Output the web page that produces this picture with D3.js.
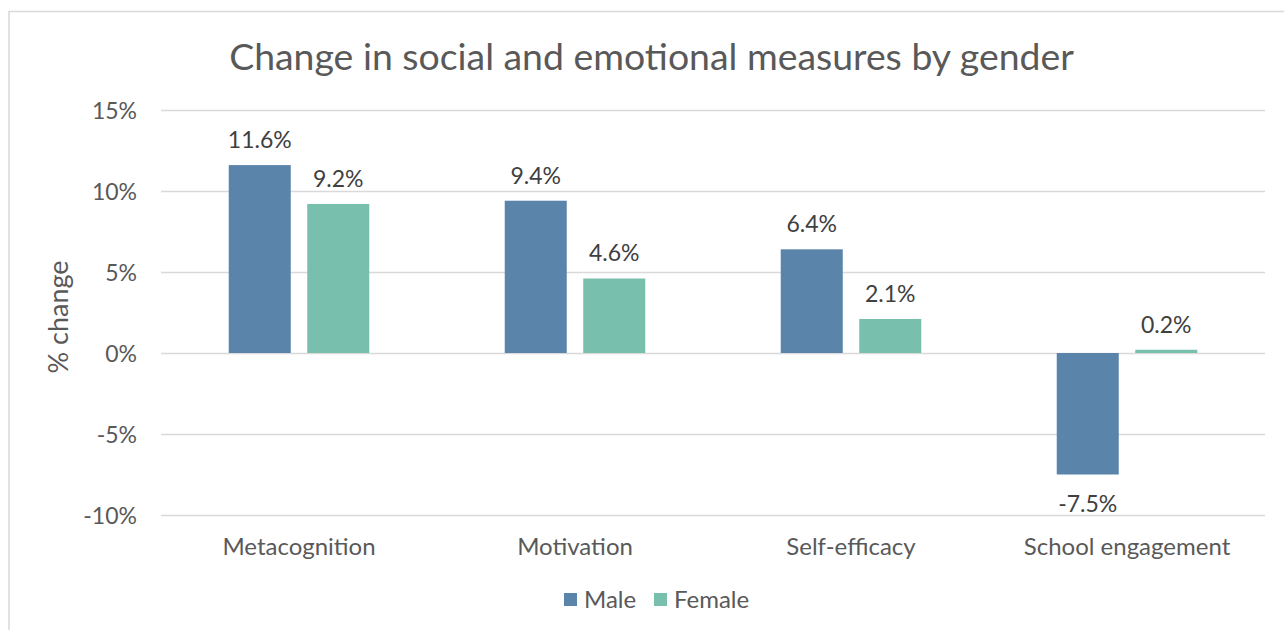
<!DOCTYPE html>
<html>
<head>
<meta charset="utf-8">
<script src="https://cdn.jsdelivr.net/npm/d3@7"></script>
<style>
  html, body { margin: 0; padding: 0; background: #fff; }
  svg { display: block; font-family: Lato, "Open Sans", sans-serif; }
  svg text { font-family: Lato, "Open Sans", sans-serif; }
</style>
</head>
<body>
<svg id="chart" width="1284" height="630"></svg>
<script>
// Chart data
const categories = ["Metacognition", "Motivation", "Self-efficacy", "School engagement"];
const seriesNames = ["Male", "Female"];
const maleValues = [11.6, 9.4, 6.4, -7.5];
const femaleValues = [9.2, 4.6, 2.1, 0.2];
const yTicks = [-10, -5, 0, 5, 10, 15];

const colors = { Male: "#5b84aa", Female: "#79bfae" };
const textColor = "#595959";
const fontStack = "Lato, 'Open Sans', sans-serif";

const svg = d3.select("#chart");

// Outer chart frame
svg.append("rect")
  .attr("x", 9).attr("y", 11.5)
  .attr("width", 1300).attr("height", 640)
  .attr("fill", "none").attr("stroke", "#d9d9d9").attr("stroke-width", 1.5);

const plot = { left: 161, right: 1265, top: 110, bottom: 515 };

const y = d3.scaleLinear().domain([-10, 15]).range([plot.bottom, plot.top]);
const x0 = d3.scaleBand().domain(categories).range([plot.left, plot.right]).padding(0);
const x1 = d3.scaleBand().domain(seriesNames).range([0, x0.bandwidth()])
  .paddingInner(0.21).paddingOuter(0.863);

// Gridlines
svg.append("g").selectAll("line").data(yTicks).join("line")
  .attr("x1", plot.left).attr("x2", plot.right)
  .attr("y1", d => Math.round(y(d)) + 0.5).attr("y2", d => Math.round(y(d)) + 0.5)
  .attr("stroke", "#d9d9d9").attr("stroke-width", 1.5);

// Y axis tick labels
const yAxis = d3.axisLeft(y).tickValues(yTicks).tickFormat(d => d + "%").tickSize(0).tickPadding(0);
const yg = svg.append("g").attr("transform", `translate(137,0)`).call(yAxis)
  .attr("font-family", fontStack).attr("font-size", null);
yg.select(".domain").remove();
yg.selectAll("text")
  .attr("fill", textColor).style("font-size", "23px")
  .attr("dy", "0.35em");

// Y axis title
svg.append("text")
  .attr("transform", `translate(68,317) rotate(-90)`)
  .attr("text-anchor", "middle")
  .attr("fill", textColor).style("font-size", "27px")
  .text("% change");

// Category labels
const xAxis = d3.axisBottom(x0).tickSize(0).tickPadding(0);
const xg = svg.append("g").attr("transform", `translate(0,555)`).call(xAxis)
  .attr("font-family", fontStack).attr("font-size", null);
xg.select(".domain").remove();
xg.selectAll("text")
  .attr("fill", textColor).style("font-size", "24px")
  .attr("y", 0).attr("dy", "0");

// Bars and value labels
const rows = categories.map((c, i) => ({
  category: c,
  values: [
    { series: "Male", value: maleValues[i] },
    { series: "Female", value: femaleValues[i] }
  ]
}));

const groups = svg.append("g").selectAll("g").data(rows).join("g")
  .attr("transform", d => `translate(${x0(d.category)},0)`);

groups.selectAll("rect").data(d => d.values).join("rect")
  .attr("x", d => x1(d.series))
  .attr("width", x1.bandwidth())
  .attr("y", d => y(Math.max(0, d.value)))
  .attr("height", d => Math.abs(y(d.value) - y(0)))
  .attr("fill", d => colors[d.series]);

groups.selectAll("text").data(d => d.values).join("text")
  .attr("x", d => x1(d.series) + x1.bandwidth() / 2)
  .attr("y", d => d.value >= 0 ? y(d.value) - 17 : y(d.value) + 37)
  .attr("text-anchor", "middle")
  .attr("fill", "#404040").style("font-size", "23px")
  .text(d => d.value.toFixed(1) + "%");

// Title
svg.append("text")
  .attr("x", 651.5).attr("y", 70)
  .attr("text-anchor", "middle")
  .attr("fill", textColor).style("font-size", "37.4px")
  .text("Change in social and emotional measures by gender");

// Legend
const legendItems = [
  { name: "Male", x: 564 },
  { name: "Female", x: 654 }
];
const lg = svg.append("g").selectAll("g").data(legendItems).join("g")
  .attr("transform", d => `translate(${d.x},593)`);
lg.append("rect").attr("width", 13).attr("height", 13).attr("fill", d => colors[d.name]);
lg.append("text").attr("x", 20).attr("y", 15)
  .attr("fill", textColor).style("font-size", "24px")
  .text(d => d.name);
</script>
</body>
</html>
